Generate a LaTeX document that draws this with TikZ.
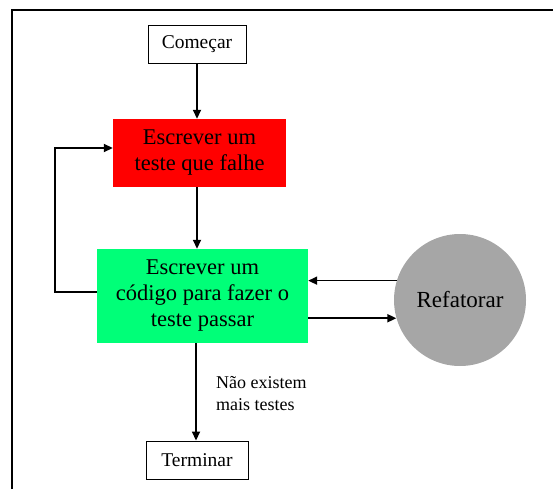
\documentclass[tikz,border=0pt]{standalone}
\usepackage{fontspec}
\setmainfont{Liberation Serif}
\usetikzlibrary{arrows.meta}
\definecolor{boxred}{RGB}{255,0,0}
\definecolor{boxgreen}{RGB}{0,255,120}
\definecolor{circgray}{RGB}{166,166,166}
\tikzset{
  x=1pt, y=-1pt,
  arr/.style={line width=1.7pt, -{Triangle[length=9pt,width=8pt]}},
  plain/.style={draw=black, line width=0.9pt, fill=white, minimum height=38pt, inner sep=0pt, font=\fontsize{19.5}{21}\selectfont},
  bigbox/.style={inner sep=0pt, align=center, font=\fontsize{22.5}{26}\selectfont},
}
\begin{document}
\begin{tikzpicture}
\useasboundingbox (0,0) rectangle (553,489);
% frame
\draw[line width=2.4pt] (12,489) -- (12,10) -- (553,10);
% nodes
\node[plain, minimum width=98pt] (comecar) at (197,44) {Começar};
\node[bigbox, fill=boxred, minimum width=173pt, minimum height=68pt] (red) at (199.5,153) {Escrever um\\teste que falhe};
\node[bigbox, fill=boxgreen, minimum width=211pt, minimum height=94pt] (green) at (202.5,296) {Escrever um\\código para fazer o\\teste passar};
\node[circle, fill=circgray, minimum size=132pt, inner sep=0pt, font=\fontsize{23}{26}\selectfont] (ref) at (460,300) {Refatorar};
\node[plain, minimum width=102pt] (terminar) at (197,460) {Terminar};
\node[anchor=west, align=left, inner sep=0pt, font=\fontsize{18}{22}\selectfont] (lbl) at (216,394) {Não existem\\mais testes};
% helper coordinates
\coordinate (loopbot) at (55,292);
\coordinate (looptop) at (55,148);
% connectors
\draw[arr] (comecar.south) -- (comecar.south |- red.north);
\draw[arr] (red.south -| comecar.south) -- (comecar.south |- green.north);
\draw[arr] (green.south -| 196,0) -- (terminar.north -| 196,0);
\draw[arr] (green.west |- loopbot) -- (loopbot) -- (looptop) -- (red.west |- looptop);
\draw[arr] (ref.163) -- (green.east |- ref.163);
\draw[arr] (green.east |- ref.196) -- (ref.196);
\end{tikzpicture}
\end{document}
